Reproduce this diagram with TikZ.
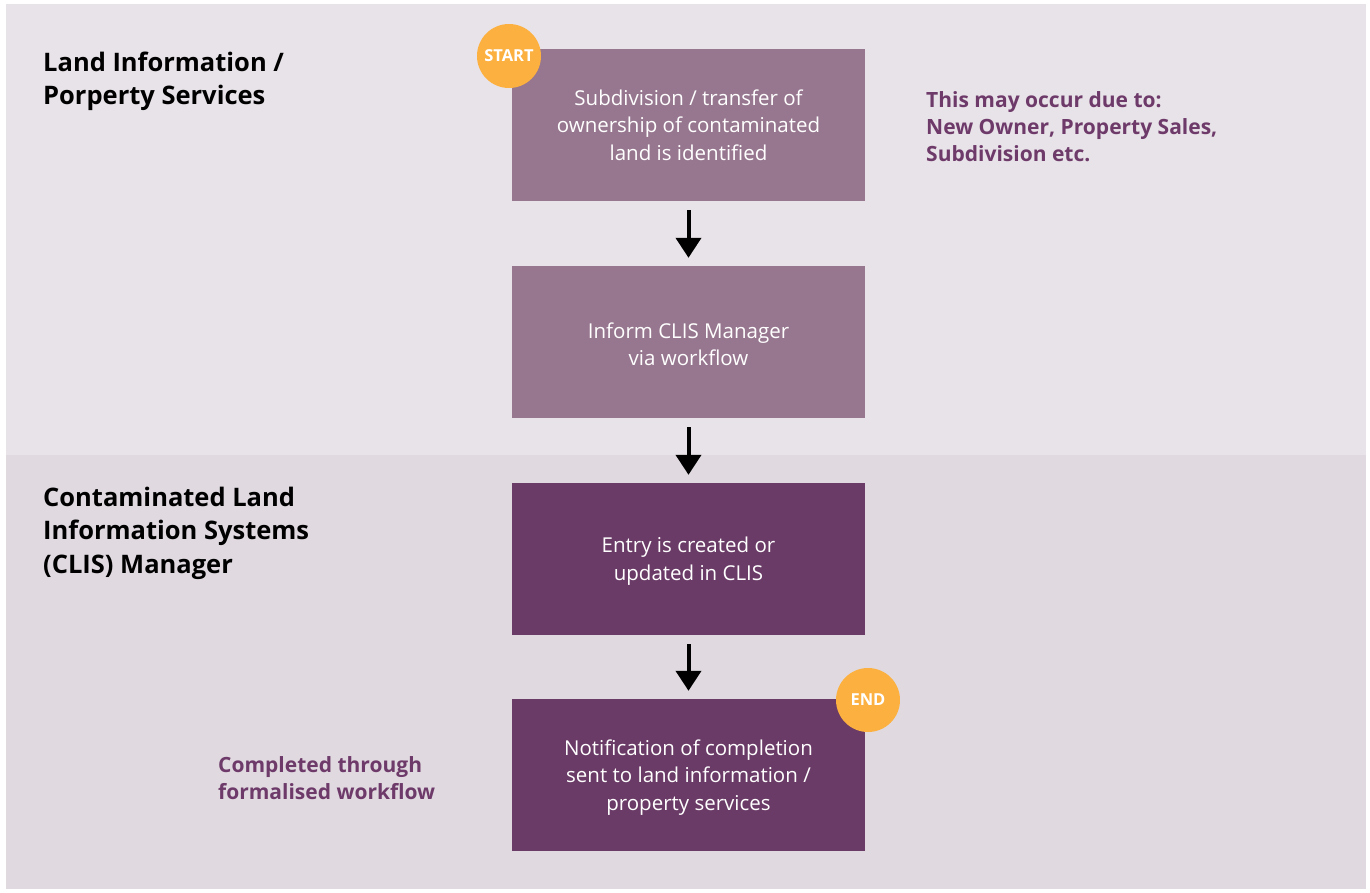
\documentclass[tikz,border=0pt]{standalone}
\usepackage{fontspec}
\setmainfont{Open Sans}
\usetikzlibrary{arrows.meta}
\definecolor{laneA}{HTML}{E8E3E8}
\definecolor{laneB}{HTML}{E0DAE0}
\definecolor{stepLight}{HTML}{97778F}
\definecolor{stepDark}{HTML}{6A3B66}
\definecolor{badge}{HTML}{FBB040}
\definecolor{noteText}{HTML}{6E3A6A}
% invisible struts that even out the first and last lines of a step text
\newcommand\stepopen[1][22pt]{\rule{0pt}{#1}}
\newcommand\stepclose{\rule[-7pt]{0pt}{7pt}}
\tikzset{
  stepbox/.style={rectangle, minimum width=353pt, minimum height=152pt, inner sep=0pt,
    text=white, align=center, font={\fontsize{20.5}{27.5}\selectfont}},
  lanetitle/.style={anchor=north west, inner sep=0pt, align=left,
    font={\fontsize{25.5}{33.3}\selectfont\bfseries}},
  note/.style={anchor=north west, inner sep=0pt, align=left, text=noteText,
    font={\fontsize{21}{27}\selectfont\bfseries}},
  badgecircle/.style={circle, fill=badge, minimum size=64pt, inner sep=0pt, text=white,
    font={\fontsize{16.5}{16.5}\selectfont\bfseries}},
  flow/.style={line width=4pt, -{Triangle[width=25pt,length=20pt]}, shorten <=9pt, shorten >=8pt}
}
\begin{document}
\begin{tikzpicture}[x=1pt,y=-1pt]
\useasboundingbox (0,0) rectangle (1370,892);
% swim lanes
\fill[laneA] (6,4) rectangle (1366,455);
\fill[laneB] (6,455) rectangle (1366,889);
% lane titles
\node[lanetitle] (laneone) at (43,51.5) {Land Information /\\Porperty Services};
\node[lanetitle] (lanetwo) at (43,487) {Contaminated Land\\Information Systems\\(CLIS) Manager};
% process steps
\node[stepbox, fill=stepLight] (s1) at (688.5,125) {\stepopen Subdivision / transfer of\\ownership of contaminated\\land is identified\stepclose};
\node[stepbox, fill=stepLight] (s2) at (688.5,342) {\stepopen[27pt]Inform CLIS Manager\\via workflow\stepclose};
\node[stepbox, fill=stepDark] (s3) at (688.5,559) {\stepopen Entry is created or\\updated in CLIS\stepclose};
\node[stepbox, fill=stepDark] (s4) at (688.5,775) {\stepopen Notification of completion\\sent to land information /\\property services\stepclose};
% start / end markers
\node[badgecircle] (start) at (509,56) {START};
\node[badgecircle] (end) at (868,700) {END};
% side notes
\node[note] (why) at (926,91) {This may occur due to:\\New Owner, Property Sales,\\Subdivision etc.};
\node[note] (how) at (218,756) {Completed through\\formalised workflow};
% connectors
\draw[flow] (s1) -- (s2);
\draw[flow] (s2) -- (s3);
\draw[flow] (s3) -- (s4);
\end{tikzpicture}
\end{document}
